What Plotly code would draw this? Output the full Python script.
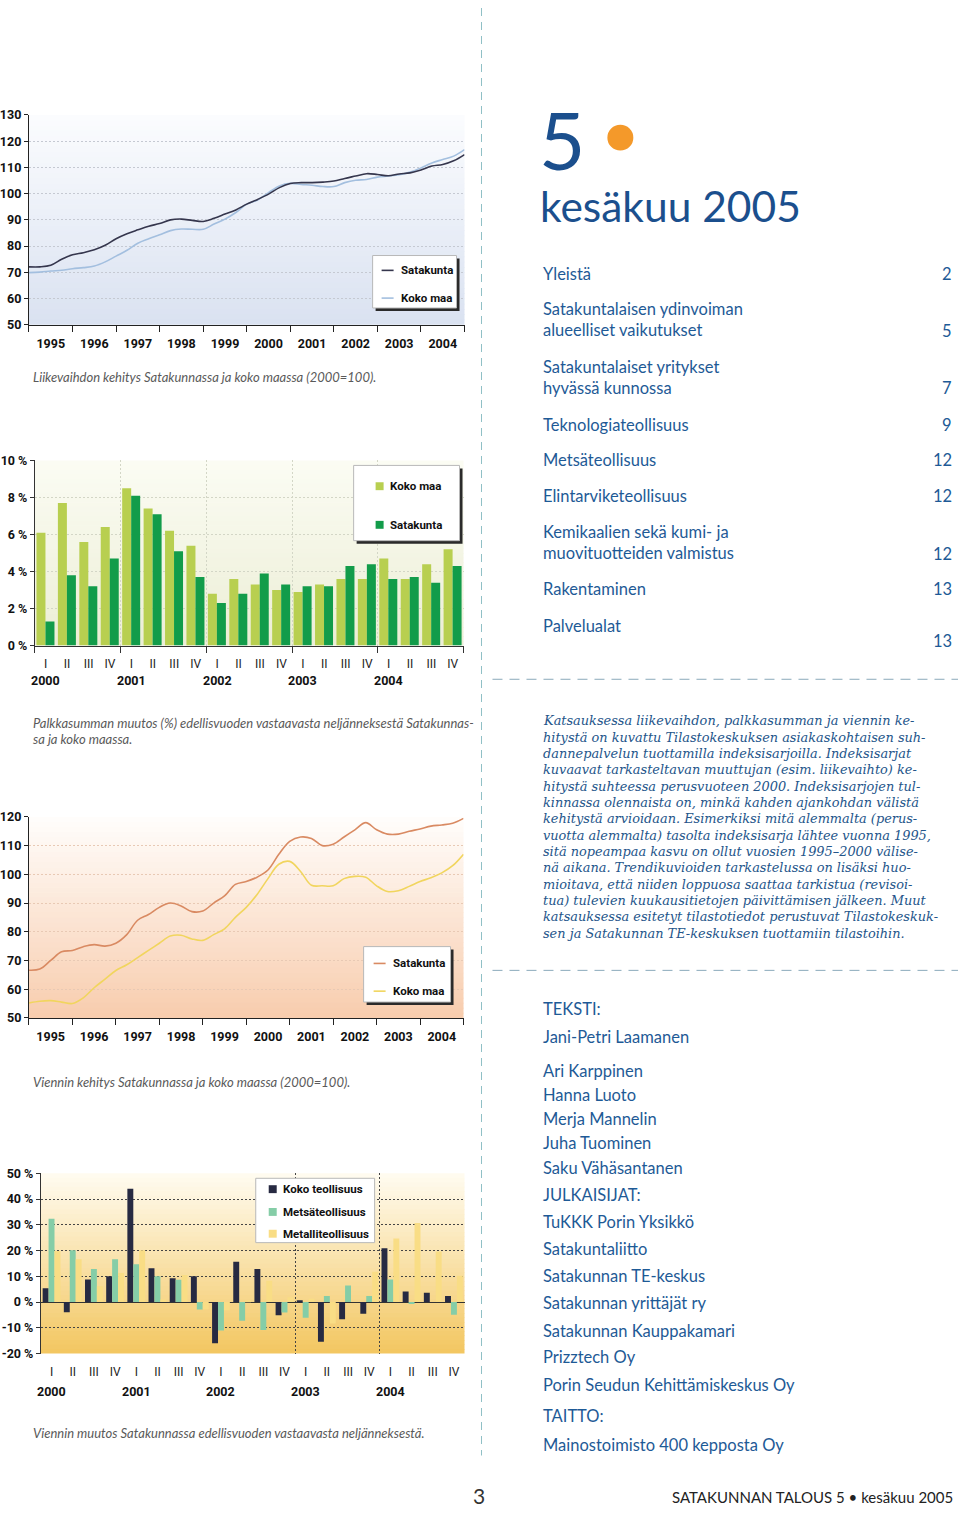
import plotly.graph_objects as go

W, H = 960, 1513
def px(x): return x / W
def py(y): return 1 - y / H

# ---------------- data ----------------
years = list(range(1995, 2005))
quarter_labels = ["I", "II", "III", "IV"]
bar_years = [2000, 2001, 2002, 2003, 2004]

# Liikevaihto index (2000=100), quarterly readings 1995.0 ... 2005.0
lv_satakunta = [72.1, 72.1, 72.7, 75.0, 76.7, 77.5, 78.6, 80.3,
                82.8, 84.7, 86.2, 87.6, 88.6, 90.0, 90.3, 89.8,
                89.4, 90.6, 92.2, 93.8, 96.0, 97.8, 99.8, 102.3,
                103.9, 104.2, 104.2, 104.4, 104.8, 105.8, 106.7, 107.6,
                107.3, 106.8, 107.5, 107.9, 109.0, 110.5, 111.1, 112.5, 114.9]
lv_kokomaa = [69.9, 70.1, 70.5, 70.8, 71.4, 71.8, 72.4, 74.0,
              76.2, 78.4, 81.1, 82.8, 84.3, 85.9, 86.5, 86.4,
              86.4, 88.4, 90.3, 92.8, 96.0, 97.6, 100.4, 102.9,
              103.9, 103.5, 103.2, 102.7, 102.7, 104.2, 105.1, 105.4,
              106.3, 106.7, 107.2, 108.2, 109.8, 111.7, 113.0, 114.3, 116.8]

# Palkkasumman muutos (%), quarters 2000 I ... 2004 IV
palkka_kokomaa = [6.1, 7.7, 5.6, 6.4, 8.5, 7.4, 6.2, 5.4, 2.8, 3.6,
                  3.3, 3.0, 2.9, 3.3, 3.6, 3.6, 4.7, 3.6, 4.4, 5.2]
palkka_satakunta = [1.3, 3.8, 3.2, 4.7, 8.1, 7.1, 5.1, 3.7, 2.3, 2.8,
                    3.9, 3.3, 3.2, 3.2, 4.3, 4.4, 3.6, 3.7, 3.4, 4.3]

# Vienti index (2000=100), quarterly readings 1995.0 ... 2005.0
vienti_satakunta = [66.6, 67.0, 70.0, 73.0, 73.5, 74.8, 75.5, 75.0,
                    76.0, 79.0, 84.0, 86.0, 88.5, 90.0, 89.0, 87.0,
                    87.2, 90.0, 92.5, 96.5, 97.5, 99.0, 101.5, 107.0,
                    111.5, 113.0, 112.5, 110.0, 110.5, 113.0, 115.5, 118.0,
                    115.5, 114.0, 114.0, 115.0, 115.8, 116.8, 117.2, 117.8, 119.5]
vienti_kokomaa = [55.2, 55.8, 56.0, 55.5, 55.0, 57.0, 60.5, 63.5,
                  66.5, 68.5, 71.0, 73.5, 76.0, 78.5, 78.8, 77.5,
                  77.0, 79.0, 81.0, 85.0, 88.5, 93.0, 98.5, 103.5,
                  104.5, 101.0, 96.2, 96.0, 96.0, 98.5, 99.3, 99.0,
                  96.0, 94.0, 94.3, 95.8, 97.5, 98.8, 100.5, 103.0, 107.0]

# Viennin muutos (%), quarters 2000 I ... 2004 IV
vm_koko = [5.4, -4.0, 8.8, 10.0, 44.0, 13.1, 9.2, 10.0, -16.0, 15.7,
           12.8, -5.1, 0.4, -15.4, -6.7, -4.5, 20.9, 4.1, 3.6, 2.3]
vm_metsa = [32.4, 20.1, 12.8, 16.6, 14.7, 10.0, 8.7, -2.9, -11.1, -7.3,
            -10.9, -4.1, -6.1, 2.3, 6.4, 2.3, 8.8, -0.8, 0.0, -4.9]
vm_metalli = [19.8, 16.6, 6.1, 11.3, 20.1, 1.0, 10.5, -2.8, -3.2, 0.3,
              8.3, 1.9, 1.3, -8.3, 0.0, 11.8, 24.7, 30.7, 19.6, 10.2]

toc_items = [("Yleistä", "2"),
             ("Satakuntalaisen ydinvoiman<br>alueelliset vaikutukset", "5"),
             ("Satakuntalaiset yritykset<br>hyvässä kunnossa", "7"),
             ("Teknologiateollisuus", "9"),
             ("Metsäteollisuus", "12"),
             ("Elintarviketeollisuus", "12"),
             ("Kemikaalien sekä kumi- ja<br>muovituotteiden valmistus", "12"),
             ("Rakentaminen", "13"),
             ("Palvelualat", "13")]

intro_lines = [
    "Katsauksessa liikevaihdon, palkkasumman ja viennin ke-",
    "hitystä on kuvattu Tilastokeskuksen asiakaskohtaisen suh-",
    "dannepalvelun tuottamilla indeksisarjoilla. Indeksisarjat",
    "kuvaavat tarkasteltavan muuttujan (esim. liikevaihto) ke-",
    "hitystä suhteessa perusvuoteen 2000. Indeksisarjojen tul-",
    "kinnassa olennaista on, minkä kahden ajankohdan välistä",
    "kehitystä arvioidaan. Esimerkiksi mitä alemmalta (perus-",
    "vuotta alemmalta) tasolta indeksisarja lähtee vuonna 1995,",
    "sitä nopeampaa kasvu on ollut vuosien 1995–2000 välise-",
    "nä aikana. Trendikuvioiden tarkastelussa on lisäksi huo-",
    "mioitava, että niiden loppuosa saattaa tarkistua (revisoi-",
    "tua) tulevien kuukausitietojen päivittämisen jälkeen. Muut",
    "katsauksessa esitetyt tilastotiedot perustuvat Tilastokeskuk-",
    "sen ja Satakunnan TE-keskuksen tuottamiin tilastoihin.",
]

credits = ["TEKSTI:", "Jani-Petri Laamanen", "Ari Karppinen", "Hanna Luoto",
           "Merja Mannelin", "Juha Tuominen", "Saku Vähäsantanen", "JULKAISIJAT:",
           "TuKKK Porin Yksikkö", "Satakuntaliitto", "Satakunnan TE-keskus",
           "Satakunnan yrittäjät ry", "Satakunnan Kauppakamari", "Prizztech Oy",
           "Porin Seudun Kehittämiskeskus Oy", "TAITTO:", "Mainostoimisto 400 kepposta Oy"]

# ---------------- derived positions ----------------
t_quarters = [y + q / 4 for y in years for q in range(4)] + [years[-1] + 1]
quarters = [q for _ in bar_years for q in quarter_labels]
qidx = list(range(len(quarters)))
year_bounds = [i - 0.5 for i in range(0, len(quarters) + 1, 4)]

# ---------------- styles ----------------
COND = "Roboto, Noto Sans, sans-serif"
SANS = "Lato, Noto Sans, sans-serif"
SERIF = "DejaVu Serif, serif"
BLUE = "#1e5a96"

C_LV_ST, C_LV_KM = "#35364d", "#a3bfdf"
C_PK_KM, C_PK_ST = "#b8cf50", "#129c4a"
C_VI_ST, C_VI_KM = "#d98a62", "#f1d55e"
C_VM_KT, C_VM_MT, C_VM_MET = "#272a42", "#85cda7", "#f9dd85"

fig = go.Figure()

# chart 1: liikevaihto
fig.add_trace(go.Scatter(x=t_quarters, y=lv_kokomaa, mode="lines", name="Koko maa",
                         line=dict(color=C_LV_KM, width=1.6, shape="spline"),
                         xaxis="x", yaxis="y", showlegend=False))
fig.add_trace(go.Scatter(x=t_quarters, y=lv_satakunta, mode="lines", name="Satakunta",
                         line=dict(color=C_LV_ST, width=1.6, shape="spline"),
                         xaxis="x", yaxis="y", showlegend=False))
# chart 2: palkkasumma
fig.add_trace(go.Bar(x=qidx, y=palkka_kokomaa, name="Koko maa", marker=dict(color=C_PK_KM, line_width=0),
                     width=0.42, offset=-0.43, xaxis="x2", yaxis="y2", showlegend=False))
fig.add_trace(go.Bar(x=qidx, y=palkka_satakunta, name="Satakunta", marker=dict(color=C_PK_ST, line_width=0),
                     width=0.42, offset=-0.01, xaxis="x2", yaxis="y2", showlegend=False))
# chart 3: vienti
fig.add_trace(go.Scatter(x=t_quarters, y=vienti_kokomaa, mode="lines", name="Koko maa",
                         line=dict(color=C_VI_KM, width=1.6, shape="spline"),
                         xaxis="x3", yaxis="y3", showlegend=False))
fig.add_trace(go.Scatter(x=t_quarters, y=vienti_satakunta, mode="lines", name="Satakunta",
                         line=dict(color=C_VI_ST, width=1.6, shape="spline"),
                         xaxis="x3", yaxis="y3", showlegend=False))
# chart 4: viennin muutos
for vals, col, nm, off in [(vm_koko, C_VM_KT, "Koko teollisuus", -0.42),
                           (vm_metsa, C_VM_MT, "Metsäteollisuus", -0.14),
                           (vm_metalli, C_VM_MET, "Metalliteollisuus", 0.14)]:
    fig.add_trace(go.Bar(x=qidx, y=vals, name=nm, marker=dict(color=col, line_width=0),
                         width=0.28, offset=off, xaxis="x4", yaxis="y4", showlegend=False))

tickfont_b = dict(family=COND, size=12.5, color="#111", weight="bold")
tickfont_r = dict(family=COND, size=12, color="#222")

def year_xaxis(x0, x1, anchor):
    return dict(domain=[px(x0), px(x1)], anchor=anchor, range=[years[0], years[-1] + 1],
                tickmode="array", tickvals=[y + 0.5 for y in years], ticktext=[str(y) for y in years],
                ticks="", showline=True, linecolor="#222", linewidth=1.2, showgrid=False, zeroline=False,
                tickfont=tickfont_b, ticklabelstandoff=7,
                minor=dict(tickmode="array", tickvals=years + [years[-1] + 1], ticks="outside",
                           ticklen=6, tickcolor="#222", tickwidth=1, showgrid=False))

def index_yaxis(y_top, y_bot, lo, hi, anchor, gridcol):
    return dict(domain=[py(y_bot), py(y_top)], anchor=anchor, range=[lo, hi],
                tickmode="array", tickvals=list(range(lo, hi + 1, 10)),
                ticks="outside", ticklen=4, tickcolor="#222", showline=True, linecolor="#222", linewidth=1.2,
                showgrid=True, gridcolor=gridcol, griddash="2px,2px", gridwidth=1, zeroline=False,
                tickfont=tickfont_b)

layout = dict(
    width=W, height=H, margin=dict(l=0, r=0, t=0, b=0),
    paper_bgcolor="white", plot_bgcolor="rgba(0,0,0,0)", barmode="overlay", showlegend=False,
    xaxis=year_xaxis(28, 464, "y"),
    yaxis=index_yaxis(108, 320, 50, 130, "x", "#c5c9d2"),
    xaxis3=year_xaxis(28, 463, "y3"),
    yaxis3=index_yaxis(817, 1020, 50, 120, "x3", "#e8c9b4"),
    xaxis2=dict(domain=[px(34), px(463)], anchor="y2", range=[-0.5, len(quarters) - 0.5],
                tickmode="array", tickvals=qidx, ticktext=quarters, ticks="", tickfont=tickfont_r,
                ticklabelstandoff=7, showline=True, linecolor="#333", linewidth=1.2, showgrid=False,
                zeroline=False,
                minor=dict(tickmode="array", tickvals=year_bounds, ticks="outside", ticklen=6,
                           tickcolor="#333", showgrid=True, gridcolor="#d3d6c6", griddash="2px,2px")),
    yaxis2=dict(domain=[py(644), py(457)], anchor="x2", range=[0, 10], tickmode="array",
                tickvals=list(range(0, 11, 2)), ticktext=[f"{v} %" for v in range(0, 11, 2)],
                ticks="outside", ticklen=4, tickcolor="#333", showline=True, linecolor="#333",
                linewidth=1.2, showgrid=True, gridcolor="#d3d6c6", griddash="2px,2px", zeroline=False,
                tickfont=tickfont_b),
    xaxis4=dict(domain=[px(40), px(464)], anchor="y4", range=[-0.5, len(quarters) - 0.5],
                tickmode="array", tickvals=qidx, ticktext=quarters, ticks="", tickfont=tickfont_r,
                ticklabelstandoff=9, showline=False, showgrid=False, zeroline=False,
                minor=dict(tickmode="array", tickvals=year_bounds[3:], ticks="", showgrid=True,
                           gridcolor="#444", griddash="2px,2px")),
    yaxis4=dict(domain=[py(1359), py(1177)], anchor="x4", range=[-20, 50], tickmode="array",
                tickvals=list(range(-20, 51, 10)), ticktext=[f"{v} %" for v in range(-20, 51, 10)],
                ticks="outside", ticklen=4, tickcolor="#333", showline=True, linecolor="#333",
                linewidth=1.2, showgrid=True, gridcolor="#444", griddash="2px,2px",
                zeroline=True, zerolinecolor="#333", zerolinewidth=1.2, tickfont=tickfont_b),
)

shapes = []
annotations = []

def hexmix(c1, c2, t):
    a = [int(c1[i:i + 2], 16) for i in (1, 3, 5)]
    b = [int(c2[i:i + 2], 16) for i in (1, 3, 5)]
    return "#%02x%02x%02x" % tuple(round(a[k] + (b[k] - a[k]) * t) for k in range(3))

def gradient(x0, x1, y0, y1, ctop, cbot, n=40):
    for i in range(n):
        ya = y0 + (y1 - y0) * i / n
        yb = y0 + (y1 - y0) * (i + 1) / n + 0.6
        shapes.append(dict(type="rect", xref="paper", yref="paper", x0=px(x0), x1=px(x1),
                           y0=py(min(yb, y1)), y1=py(ya), fillcolor=hexmix(ctop, cbot, i / (n - 1)),
                           line=dict(width=0), layer="below"))

gradient(28, 464, 108, 320, "#fbfcfe", "#dae2f1")
gradient(34, 463, 457, 644, "#fbfcf3", "#eceed6")
gradient(28, 463, 817, 1020, "#fffdfb", "#f8cdae")
gradient(40, 464, 1177, 1359, "#fffbef", "#f3c762")

LEGFONT = dict(family=COND, size=11.5, color="#111", weight="bold")

def legend_box(x0, y0, x1, y1, shadow=True):
    if shadow:
        shapes.append(dict(type="rect", xref="paper", yref="paper", x0=px(x0 + 3), x1=px(x1 + 3),
                           y0=py(y1 + 3), y1=py(y0 + 3), fillcolor="#2a2a2a", line=dict(width=0)))
    shapes.append(dict(type="rect", xref="paper", yref="paper", x0=px(x0), x1=px(x1),
                       y0=py(y1), y1=py(y0), fillcolor="white", line=dict(color="#b8b8b8", width=1)))

def legend_line(x, y, color, label):
    shapes.append(dict(type="line", xref="paper", yref="paper", x0=px(x), x1=px(x + 12),
                       y0=py(y), y1=py(y), line=dict(color=color, width=1.6)))
    annotations.append(dict(text=label, x=px(x + 17), y=py(y), xref="paper", yref="paper",
                            xanchor="left", yanchor="middle", showarrow=False, font=LEGFONT))

def legend_square(x, y, color, label, s=8):
    shapes.append(dict(type="rect", xref="paper", yref="paper", x0=px(x), x1=px(x + s),
                       y0=py(y + s / 2), y1=py(y - s / 2), fillcolor=color, line=dict(width=0)))
    annotations.append(dict(text=label, x=px(x + s + 4), y=py(y), xref="paper", yref="paper",
                            xanchor="left", yanchor="middle", showarrow=False, font=LEGFONT))

legend_box(372, 250, 456, 303)
legend_line(381, 265, C_LV_ST, "Satakunta")
legend_line(381, 293, C_LV_KM, "Koko maa")

legend_box(353, 462, 459, 538)
legend_square(375, 483, C_PK_KM, "Koko maa")
legend_square(375, 522, C_PK_ST, "Satakunta")

legend_box(363, 948, 450, 1004)
legend_line(373, 965, C_VI_ST, "Satakunta")
legend_line(373, 993, C_VI_KM, "Koko maa")

legend_box(255, 1182, 374, 1247, shadow=False)
legend_square(268, 1193, C_VM_KT, "Koko teollisuus")
legend_square(268, 1216, C_VM_MT, "Metsäteollisuus")
legend_square(268, 1238, C_VM_MET, "Metalliteollisuus")

# year labels under quarter axes
YFONT = dict(family=COND, size=12.5, color="#111", weight="bold")
for k, yr in enumerate(bar_years):
    annotations.append(dict(text=str(yr), x=qidx[k * 4], xref="x2", y=py(679), yref="paper",
                            xanchor="center", yanchor="middle", showarrow=False, font=YFONT))
    annotations.append(dict(text=str(yr), x=qidx[k * 4], xref="x4", y=py(1397), yref="paper",
                            xanchor="center", yanchor="middle", showarrow=False, font=YFONT))

def text(t, x, y, size, color, family=SANS, xanchor="left", italic=False, yanchor="middle"):
    annotations.append(dict(text=t, x=px(x), y=py(y), xref="paper", yref="paper", xanchor=xanchor,
                            yanchor=yanchor, showarrow=False, align="left",
                            font=dict(family=family, size=size, color=color,
                                      style="italic" if italic else "normal")))

# captions
cap = dict(size=13, color="#5a5a5a", italic=True)
text("Liikevaihdon kehitys Satakunnassa ja koko maassa (2000=100).", 30, 373, **cap)
text("Palkkasumman muutos (%) edellisvuoden vastaavasta neljänneksestä Satakunnas-", 30, 722, **cap)
text("sa ja koko maassa.", 30, 738, **cap)
text("Viennin kehitys Satakunnassa ja koko maassa (2000=100).", 30, 1085, **cap)
text("Viennin muutos Satakunnassa edellisvuoden vastaavasta neljänneksestä.", 30, 1439, **cap)

# title block
text("5", 537, 132, 80, "#1b4f8d")
shapes.append(dict(type="circle", xref="paper", yref="paper", x0=px(607), x1=px(633),
                   y0=py(144), y1=py(118), fillcolor="#f4992a", line=dict(width=0)))
text("kesäkuu 2005", 538, 199, 42.5, "#1b4f8d")

# table of contents
toc_y = [(269, 269), (315, 326), (373, 384), (421, 421), (457, 457), (493, 493),
         (540, 551), (587, 587), (624, 639)]
for (label, page), (ly, pyy) in zip(toc_items, toc_y):
    text(label, 541, ly, 16.5, BLUE)
    text(page, 954, pyy, 16.5, BLUE, xanchor="right")

# intro paragraph
for i, line in enumerate(intro_lines):
    text(line, 541, 720 + i * 16.5, 12.9, "#24558a", family=SERIF, italic=True)

# credits
credit_y = [1011, 1039, 1074, 1098, 1122, 1146, 1172, 1199, 1226, 1253, 1281, 1308, 1336, 1363,
            1391, 1422, 1451]
for c, cy in zip(credits, credit_y):
    text(c, 541, cy, 16.5, BLUE)

# footer
text("3", 478, 1502, 21, "#333", xanchor="center")
text("SATAKUNNAN TALOUS 5 • kesäkuu 2005", 955, 1504, 15, "#222", xanchor="right")

# dashed dividers
shapes.append(dict(type="line", xref="paper", yref="paper", x0=px(481), x1=px(481), y0=py(0), y1=py(1462),
                   line=dict(color="#8fc0c6", width=1, dash="8px,6px")))
for yy in (678, 972):
    shapes.append(dict(type="line", xref="paper", yref="paper", x0=px(492), x1=px(958), y0=py(yy),
                       y1=py(yy), line=dict(color="#8aaabb", width=1, dash="10px,7px")))

layout["shapes"] = shapes
layout["annotations"] = annotations
fig.update_layout(**layout)

# page setup: no body margin (runs synchronously right after the plot call)
page_js = ("}); document.body.style.margin='0'; document.body.style.overflow='hidden'; (function(){")
fig.write_html("out.html", config={"displayModeBar": False}, post_script=page_js)
